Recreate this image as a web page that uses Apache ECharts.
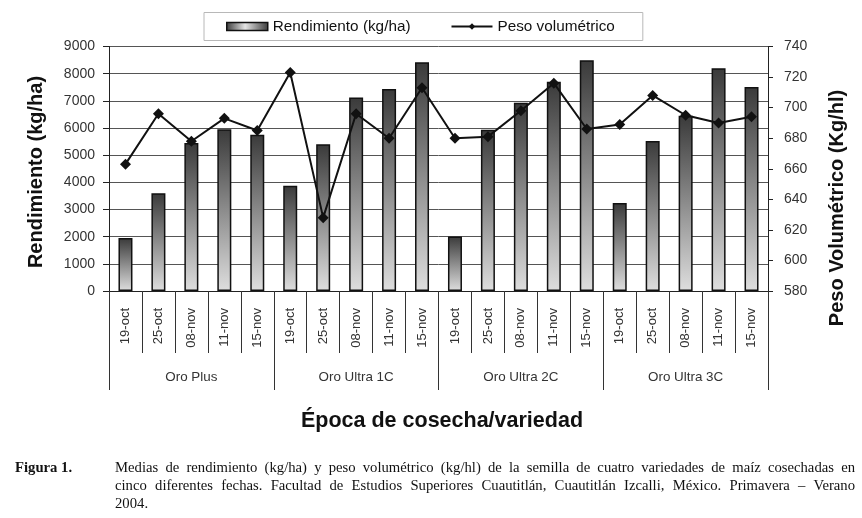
<!DOCTYPE html>
<html>
<head>
<meta charset="utf-8">
<script src="https://cdn.jsdelivr.net/npm/echarts@6/dist/echarts.min.js"></script>
<style>
  html, body { margin: 0; padding: 0; background: #fff; }
  #wrap { position: relative; width: 862px; height: 518px; overflow: hidden; }
  #chart { position: absolute; left: 0; top: 0; width: 862px; height: 518px; }
  #figlabel { position: absolute; left: 15px; top: 458px; font: bold 14.7px "Liberation Serif", serif; line-height: 18px; color: #111; }
  #caption { position: absolute; left: 115px; top: 458px; width: 740px; font: 14.7px "Liberation Serif", serif; line-height: 18px; color: #111; }
  #caption .j { display: block; text-align: justify; text-align-last: justify; white-space: nowrap; }
  #caption .l { display: block; text-align: left; }
</style>
</head>
<body>
<div id="wrap">
  <div id="chart"></div>
  <div id="figlabel">Figura 1.</div>
  <div id="caption"><span class="j">Medias de rendimiento (kg/ha) y peso volumétrico (kg/hl) de la semilla de cuatro variedades de maíz cosechadas en</span><span class="j">cinco diferentes fechas. Facultad de Estudios Superiores Cuautitlán, Cuautitlán Izcalli, México. Primavera – Verano</span><span class="l">2004.</span></div>
</div>
<script>
// ---- data ----
const fechas = ['19-oct','25-oct','08-nov','11-nov','15-nov',
                '19-oct','25-oct','08-nov','11-nov','15-nov',
                '19-oct','25-oct','08-nov','11-nov','15-nov',
                '19-oct','25-oct','08-nov','11-nov','15-nov'];
const variedades = ['Oro Plus', 'Oro Ultra 1C', 'Oro Ultra 2C', 'Oro Ultra 3C'];
const rendimiento = [1950, 3600, 5450, 5950, 5750,
                     3870, 5400, 7120, 7440, 8420,
                     2010, 5940, 6930, 7700, 8490,
                     3240, 5520, 6450, 8200, 7510];
const pesoVolumetrico = [663, 696, 678, 693, 685,
                         723, 628, 696, 680, 713,
                         680, 681, 698, 716, 686,
                         689, 708, 695, 690, 694];
const serieBarras = 'Rendimiento (kg/ha)';
const serieLinea = 'Peso volumétrico';
const tituloIzq = 'Rendimiento (kg/ha)';
const tituloDer = 'Peso Volumétrico (Kg/hl)';
const tituloX = 'Época de cosecha/variedad';

const FONT = '"Liberation Sans", Arial, sans-serif';
const chart = echarts.init(document.getElementById('chart'), null, { renderer: 'canvas' });

const barGrad = new echarts.graphic.LinearGradient(0, 0, 0, 1, [
  { offset: 0, color: '#3a3a3a' },
  { offset: 1, color: '#dedede' }
]);
const legendGrad = new echarts.graphic.LinearGradient(0, 0, 1, 0, [
  { offset: 0, color: '#3a3a3a' },
  { offset: 0.45, color: '#e4e4e4' },
  { offset: 1, color: '#3a3a3a' }
]);

chart.setOption({
  animation: false,
  backgroundColor: '#fff',
  textStyle: { fontFamily: FONT },
  grid: { left: 109, right: 94, top: 46.5, bottom: 227, containLabel: false },
  legend: {
    left: 204, top: 12.5,
    padding: [6.5, 28, 6.5, 22],
    itemGap: 40,
    itemWidth: 41, itemHeight: 8,
    borderColor: '#b8b8b8', borderWidth: 1,
    backgroundColor: '#fff',
    textStyle: { fontFamily: FONT, fontSize: 15.3, color: '#111' },
    data: [
      { name: serieBarras, icon: 'rect', itemStyle: { color: legendGrad, borderColor: '#111', borderWidth: 1.5 } },
      { name: serieLinea }
    ]
  },
  xAxis: [
    {
      type: 'category', data: fechas, position: 'bottom',
      axisLine: { show: true, lineStyle: { color: '#222', width: 1 } },
      axisTick: { show: true, interval: 0, length: 62, lineStyle: { color: '#333', width: 1 } },
      axisLabel: { interval: 0, rotate: 90, margin: 17, fontFamily: FONT, fontSize: 13, color: '#333' },
      splitLine: { show: false }
    },
    {
      type: 'category', data: variedades, position: 'bottom',
      axisLine: { show: true, lineStyle: { color: '#222', width: 1 } },
      axisTick: { show: true, interval: 0, length: 99, lineStyle: { color: '#333', width: 1 } },
      axisLabel: { interval: 0, margin: 80, fontFamily: FONT, fontSize: 13.4, color: '#333' },
      splitLine: { show: false }
    }
  ],
  yAxis: [
    {
      type: 'value', min: 0, max: 9000, interval: 1000, position: 'left',
      axisLine: { show: true, lineStyle: { color: '#222', width: 1 } },
      axisTick: { show: true, length: 6, lineStyle: { color: '#222' } },
      axisLabel: { margin: 14, fontFamily: FONT, fontSize: 14, color: '#333',
                   formatter: function (v) { return String(v); } },
      splitLine: { show: true, lineStyle: { color: '#555', width: 1 } }
    },
    {
      type: 'value', min: 580, max: 740, interval: 20, position: 'right',
      axisLine: { show: true, lineStyle: { color: '#222', width: 1 } },
      axisTick: { show: true, length: 5, lineStyle: { color: '#222' } },
      axisLabel: { margin: 16, fontFamily: FONT, fontSize: 14, color: '#333',
                   formatter: function (v) { return String(v); } },
      splitLine: { show: false }
    }
  ],
  series: [
    {
      name: serieBarras, type: 'bar', xAxisIndex: 0, yAxisIndex: 0,
      data: rendimiento, barWidth: 14,
      itemStyle: { color: barGrad, borderColor: '#111', borderWidth: 1.5 }
    },
    {
      name: serieLinea, type: 'line', xAxisIndex: 0, yAxisIndex: 1,
      data: pesoVolumetrico,
      symbol: 'diamond', symbolSize: 11,
      lineStyle: { color: '#111', width: 2 },
      itemStyle: { color: '#111' },
      z: 5
    }
  ],
  graphic: [
    {
      type: 'text', x: 36, y: 172, rotation: Math.PI / 2,
      style: { text: tituloIzq, align: 'center', verticalAlign: 'middle',
               font: 'bold 20px ' + FONT, fill: '#111' }
    },
    {
      type: 'text', x: 837, y: 208, rotation: Math.PI / 2,
      style: { text: tituloDer, align: 'center', verticalAlign: 'middle',
               font: 'bold 20px ' + FONT, fill: '#111' }
    },
    {
      type: 'text', x: 442, y: 421,
      style: { text: tituloX, align: 'center', verticalAlign: 'middle',
               font: 'bold 21.5px ' + FONT, fill: '#111' }
    }
  ]
});
</script>
</body>
</html>
